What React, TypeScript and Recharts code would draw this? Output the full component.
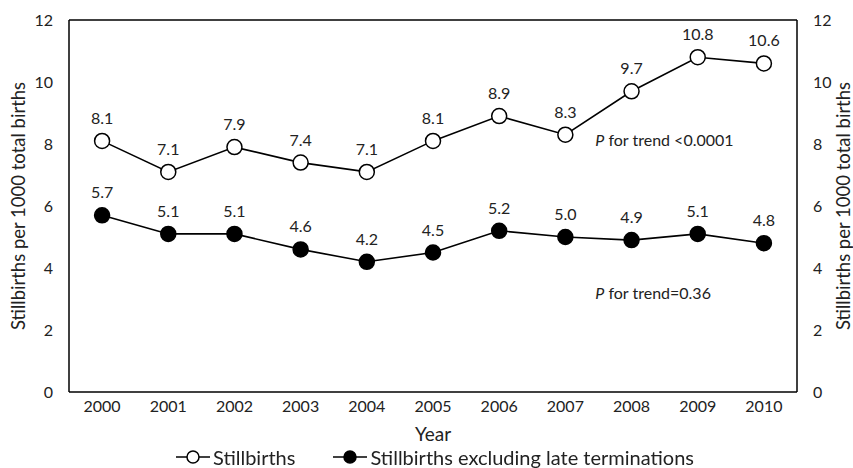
import React from 'react';
import {
  LineChart,
  Line,
  XAxis,
  YAxis,
  LabelList,
  ReferenceLine,
  ReferenceDot,
} from 'recharts';

const years = ['2000', '2001', '2002', '2003', '2004', '2005', '2006', '2007', '2008', '2009', '2010'];
const stillbirths = [8.1, 7.1, 7.9, 7.4, 7.1, 8.1, 8.9, 8.3, 9.7, 10.8, 10.6];
const excludingLate = [5.7, 5.1, 5.1, 4.6, 4.2, 4.5, 5.2, 5.0, 4.9, 5.1, 4.8];
const yTicks = [0, 2, 4, 6, 8, 10, 12];

const data = years.map((year, i) => ({
  year,
  stillbirths: stillbirths[i],
  excluding: excludingLate[i],
}));

const FONT = 'Lato, "Open Sans", sans-serif';
const TEXT = '#222';

const fmt = (v: any) => Number(v).toFixed(1);

const TrendNote = ({ cx, cy, text }: { cx?: number; cy?: number; text: string }) => (
  <text x={(cx ?? 0) + 30} y={(cy ?? 0) + 5} fontFamily={FONT} fontSize={16} fill={TEXT}>
    <tspan fontStyle="italic">P</tspan>
    <tspan>{text}</tspan>
  </text>
);

const LegendMarker = ({ fill }: { fill: string }) => (
  <svg width={37} height={16} style={{ flex: 'none' }}>
    <line x1={0} y1={8} x2={34} y2={8} stroke="#000" strokeWidth={1.5} />
    <circle cx={17} cy={8} r={6} fill={fill} stroke="#000" strokeWidth={1.5} />
  </svg>
);

const LegendRow = () => (
  <div
    style={{
      position: 'absolute',
      top: 446,
      left: 176,
      height: 22,
      lineHeight: '22px',
      display: 'flex',
      gap: 38,
      fontFamily: FONT,
      fontSize: 20,
      color: TEXT,
      whiteSpace: 'nowrap',
    }}
  >
    <span style={{ display: 'flex', alignItems: 'center' }}>
      <LegendMarker fill="#fff" />
      Stillbirths
    </span>
    <span style={{ display: 'flex', alignItems: 'center' }}>
      <LegendMarker fill="#000" />
      Stillbirths excluding late terminations
    </span>
  </div>
);

const axisLabel = {
  fontFamily: FONT,
  fontSize: 18.5,
  fill: TEXT,
};

export default function App() {
  return (
    <div style={{ position: 'fixed', top: 0, left: 0, width: 853, height: 468, background: '#fff' }}>
      <LineChart
        width={853}
        height={468}
        data={data}
        margin={{ top: 20, right: 55, bottom: 75, left: 68 }}
      >
        <XAxis
          dataKey="year"
          scale="band"
          tickLine={false}
          axisLine={{ stroke: '#000', strokeWidth: 1.5 }}
          tick={{ fontFamily: FONT, fontSize: 16, fill: TEXT }}
          tickMargin={3}
          height={1}
          label={{ value: 'Year', position: 'insideBottom', offset: -48, fontFamily: FONT, fontSize: 19, fill: TEXT }}
        />
        <YAxis
          yAxisId="left"
          domain={[0, 12]}
          ticks={yTicks}
          tickLine={false}
          axisLine={{ stroke: '#000', strokeWidth: 1.5 }}
          tick={{ fontFamily: FONT, fontSize: 16, fill: TEXT }}
          tickMargin={10}
          width={1}
          label={{
            value: 'Stillbirths per 1000 total births',
            angle: -90,
            position: 'insideLeft',
            offset: -50,
            style: { textAnchor: 'middle' },
            ...axisLabel,
          }}
        />
        <YAxis
          yAxisId="right"
          orientation="right"
          domain={[0, 12]}
          ticks={yTicks}
          tickLine={false}
          axisLine={{ stroke: '#000', strokeWidth: 1.5 }}
          tick={{ fontFamily: FONT, fontSize: 16, fill: TEXT }}
          tickMargin={10}
          width={1}
          label={{
            value: 'Stillbirths per 1000 total births',
            angle: -90,
            position: 'insideRight',
            offset: -45,
            style: { textAnchor: 'middle' },
            ...axisLabel,
          }}
        />
        <ReferenceLine yAxisId="left" y={12} stroke="#000" strokeWidth={1.5} />
        <ReferenceDot
          yAxisId="left"
          x="2007"
          y={8.1}
          r={0}
          ifOverflow="visible"
          shape={(p: any) => <TrendNote cx={p.cx} cy={p.cy} text=" for trend <0.0001" />}
        />
        <ReferenceDot
          yAxisId="left"
          x="2007"
          y={3.16}
          r={0}
          ifOverflow="visible"
          shape={(p: any) => <TrendNote cx={p.cx} cy={p.cy} text=" for trend=0.36" />}
        />
        <Line
          yAxisId="left"
          dataKey="stillbirths"
          stroke="#000"
          strokeWidth={1.6}
          dot={{ r: 7.5, fill: '#fff', stroke: '#000', strokeWidth: 1.5 }}
          activeDot={false}
          isAnimationActive={false}
        >
          <LabelList
            dataKey="stillbirths"
            position="top"
            offset={17}
            formatter={fmt}
            style={{ fontFamily: FONT, fontSize: 16, fill: TEXT }}
          />
        </Line>
        <Line
          yAxisId="right"
          dataKey="excluding"
          stroke="#000"
          strokeWidth={1.6}
          dot={{ r: 7.5, fill: '#000', stroke: '#000', strokeWidth: 1.5 }}
          activeDot={false}
          isAnimationActive={false}
        >
          <LabelList
            dataKey="excluding"
            position="top"
            offset={17}
            formatter={fmt}
            style={{ fontFamily: FONT, fontSize: 16, fill: TEXT }}
          />
        </Line>
      </LineChart>
      <LegendRow />
    </div>
  );
}
